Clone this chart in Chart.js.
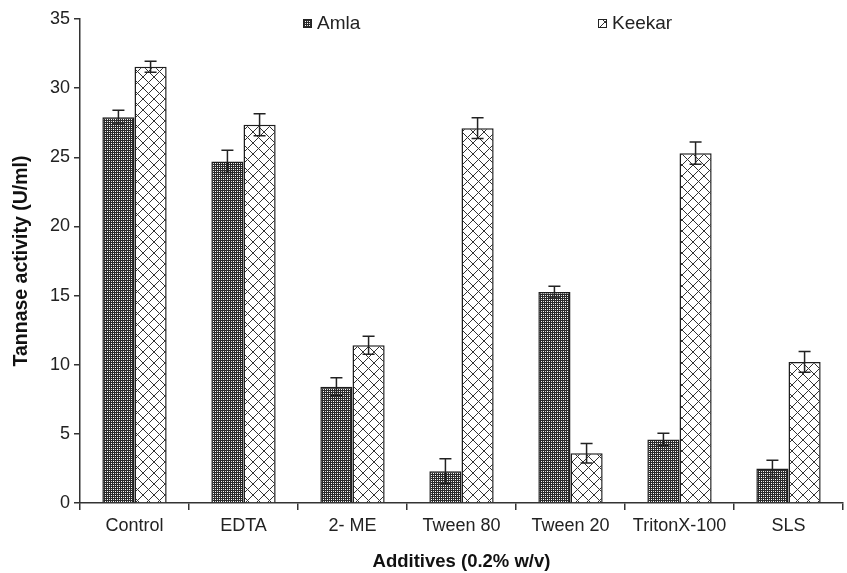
<!DOCTYPE html>
<html>
<head>
<meta charset="utf-8">
<script src="https://cdn.jsdelivr.net/npm/chart.js@4.4.0/dist/chart.umd.min.js"></script>
<style>
  html, body { margin: 0; padding: 0; background: #fff; }
</style>
</head>
<body>
<canvas id="tannaseChart" width="847" height="573"></canvas>
<script>
const additives = ['Control', 'EDTA', '2- ME', 'Tween 80', 'Tween 20', 'TritonX-100', 'SLS'];
const amlaActivity = [27.9, 24.7, 8.4, 2.3, 15.25, 4.6, 2.5];
const amlaError = [0.5, 0.8, 0.65, 0.9, 0.43, 0.45, 0.6];
const keekarActivity = [31.55, 27.35, 11.4, 27.1, 3.6, 25.3, 10.2];
const keekarError = [0.4, 0.8, 0.65, 0.75, 0.7, 0.8, 0.75];
const yMin = 0;
const yMax = 35;
const yStep = 5;

const fontFamily = '"Liberation Sans", Arial, Helvetica, sans-serif';

// dense dark dotted fill (Amla)
function makeAmlaPattern() {
    const c = document.createElement('canvas');
    c.width = 4; c.height = 4;
    const g = c.getContext('2d');
    g.fillStyle = '#2a2a2a';
    g.fillRect(0, 0, 4, 4);
    g.fillStyle = '#ffffff';
    g.fillRect(1, 1, 1, 1);
    g.fillRect(3, 3, 1, 1);
    g.fillStyle = '#d8d8d8';
    g.fillRect(3, 1, 1, 1);
    g.fillRect(1, 3, 1, 1);
    return g.createPattern(c, 'repeat');
}

// open diagonal lattice (Keekar)
function makeKeekarPattern() {
    const c = document.createElement('canvas');
    c.width = 11; c.height = 11;
    const g = c.getContext('2d');
    g.fillStyle = '#ffffff';
    g.fillRect(0, 0, 11, 11);
    g.strokeStyle = '#333333';
    g.lineWidth = 1;
    g.beginPath();
    g.moveTo(0, 0); g.lineTo(11, 11);
    g.moveTo(11, 0); g.lineTo(0, 11);
    g.stroke();
    return g.createPattern(c, 'repeat');
}

const amlaFill = makeAmlaPattern();
const keekarFill = makeKeekarPattern();

const errorBars = {
    id: 'errorBars',
    afterDatasetsDraw(chart) {
        const ctx = chart.ctx;
        const y = chart.scales.y;
        ctx.save();
        ctx.strokeStyle = '#222';
        ctx.lineWidth = 1.5;
        chart.data.datasets.forEach((ds, i) => {
            chart.getDatasetMeta(i).data.forEach((bar, j) => {
                const v = ds.data[j];
                const e = ds.errors[j];
                const top = y.getPixelForValue(v + e);
                const bot = y.getPixelForValue(v - e);
                const x = bar.x;
                ctx.beginPath();
                ctx.moveTo(x, top); ctx.lineTo(x, bot);
                ctx.moveTo(x - 6, top); ctx.lineTo(x + 6, top);
                ctx.moveTo(x - 6, bot); ctx.lineTo(x + 6, bot);
                ctx.stroke();
            });
        });
        ctx.restore();
    }
};

// legend sits inside the plot, items spread apart
const legendSpots = [303, 598];
const insideLegend = {
    id: 'insideLegend',
    afterDraw(chart) {
        const ctx = chart.ctx;
        ctx.save();
        ctx.font = '19px ' + fontFamily;
        ctx.textBaseline = 'alphabetic';
        chart.data.datasets.forEach((ds, i) => {
            const x = legendSpots[i];
            ctx.fillStyle = ds.backgroundColor;
            ctx.fillRect(x, 19, 9, 9);
            ctx.strokeStyle = '#222';
            ctx.lineWidth = 1;
            ctx.strokeRect(x + 0.5, 19.5, 8, 8);
            ctx.fillStyle = '#222';
            ctx.fillText(ds.label, x + 14, 29);
        });
        ctx.restore();
    }
};

const ctx = document.getElementById('tannaseChart');
new Chart(ctx, {
    type: 'bar',
    data: {
        labels: additives,
        datasets: [
            {
                label: 'Amla',
                data: amlaActivity,
                errors: amlaError,
                backgroundColor: amlaFill,
                borderColor: '#1e1e1e',
                borderWidth: 1.5
            },
            {
                label: 'Keekar',
                data: keekarActivity,
                errors: keekarError,
                backgroundColor: keekarFill,
                borderColor: '#1e1e1e',
                borderWidth: 1.5
            }
        ]
    },
    options: {
        responsive: false,
        animation: false,
        categoryPercentage: 0.59,
        barPercentage: 1.0,
        layout: { padding: { top: 19, right: 4, left: 0, bottom: 0 } },
        plugins: {
            legend: { display: false },
            tooltip: { enabled: false }
        },
        scales: {
            x: {
                grid: { offset: true, drawOnChartArea: false, tickLength: 7, color: '#333', lineWidth: 1.5 },
                border: { color: '#333', width: 1.5 },
                ticks: { color: '#222', padding: 5, font: { family: fontFamily, size: 18 }, maxRotation: 0 },
                title: {
                    display: true,
                    text: 'Additives (0.2% w/v)',
                    color: '#111',
                    font: { family: fontFamily, size: 18.5, weight: 'bold' },
                    padding: { top: 0, bottom: 0 }
                },
                afterFit(scale) { scale.height = 70; }
            },
            y: {
                min: yMin,
                max: yMax,
                ticks: { stepSize: yStep, color: '#222', padding: 4, font: { family: fontFamily, size: 18 } },
                grid: { drawOnChartArea: false, tickLength: 6, color: '#333', lineWidth: 1.5 },
                border: { color: '#333', width: 1.5 },
                title: {
                    display: true,
                    text: 'Tannase activity (U/ml)',
                    color: '#111',
                    font: { family: fontFamily, size: 19.5, weight: 'bold' },
                    padding: { top: 10, bottom: 0 }
                },
                afterFit(scale) { scale.width = 80; }
            }
        }
    },
    plugins: [errorBars, insideLegend]
});
</script>
</body>
</html>
